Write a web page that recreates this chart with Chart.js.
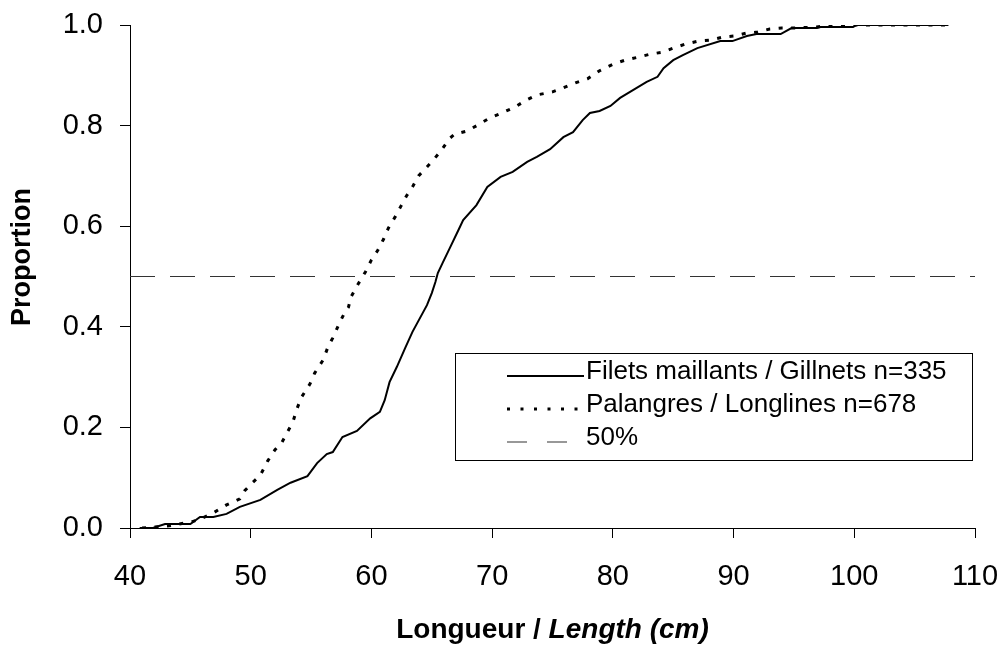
<!DOCTYPE html>
<html>
<head>
<meta charset="utf-8">
<script src="https://cdn.jsdelivr.net/npm/chart.js@4"></script>
<style>
  body { margin: 0; background: #fff; }
</style>
</head>
<body>
<canvas id="chart" width="1003" height="647"></canvas>
<script>
// gillnets (solid line) - cumulative proportion by length
const gillnetLength = [40.8, 41.9, 42.9, 45.0, 45.8, 46.9, 48.0, 49.1, 50.8, 52.2, 53.3, 54.7, 55.5, 56.3, 56.8, 57.6, 58.8, 59.9, 60.7, 61.1, 61.5, 62.1, 62.8, 63.4, 64.6, 65.0, 65.3, 65.5, 65.9, 66.5, 67.2, 67.6, 68.7, 69.6, 70.7, 71.7, 72.9, 73.7, 74.8, 75.9, 76.7, 77.5, 78.1, 78.9, 79.8, 80.6, 81.7, 82.8, 83.7, 84.2, 85.0, 85.8, 87.0, 88.9, 89.9, 91.1, 91.9, 93.9, 94.8, 96.9, 97.2, 99.9, 100.2, 107.8];
const gillnetProp = [0, 0, 0.008, 0.008, 0.022, 0.022, 0.028, 0.042, 0.056, 0.076, 0.09, 0.103, 0.129, 0.147, 0.151, 0.181, 0.193, 0.218, 0.231, 0.254, 0.29, 0.32, 0.358, 0.39, 0.443, 0.467, 0.489, 0.507, 0.527, 0.557, 0.592, 0.612, 0.642, 0.678, 0.698, 0.708, 0.728, 0.738, 0.753, 0.777, 0.787, 0.811, 0.825, 0.829, 0.839, 0.855, 0.871, 0.887, 0.897, 0.914, 0.93, 0.94, 0.954, 0.968, 0.968, 0.978, 0.982, 0.982, 0.994, 0.994, 0.996, 0.996, 1.0, 1.0];

// longlines (dotted line)
const longlineLength = [41.0, 43.1, 45.1, 46.0, 46.9, 48.0, 49.1, 49.5, 50.1, 50.8, 51.4, 52.0, 52.6, 53.0, 53.5, 53.8, 54.2, 54.9, 55.3, 56.0, 56.4, 56.8, 57.4, 57.8, 58.1, 58.3, 58.9, 59.5, 60.0, 60.5, 61.0, 61.4, 62.0, 62.4, 62.9, 63.4, 63.9, 65.0, 65.7, 66.5, 66.9, 67.9, 68.8, 69.8, 70.8, 71.9, 72.7, 73.7, 75.0, 75.9, 76.9, 77.9, 78.9, 80.0, 81.0, 82.1, 83.1, 84.1, 85.0, 86.0, 87.1, 88.1, 89.1, 90.0, 91.1, 92.0, 93.0, 94.0, 94.9, 96.9, 98.0, 107.8];
const longlineProp = [0, 0.004, 0.012, 0.02, 0.03, 0.046, 0.058, 0.074, 0.089, 0.105, 0.133, 0.155, 0.171, 0.189, 0.211, 0.235, 0.26, 0.286, 0.308, 0.334, 0.36, 0.378, 0.41, 0.429, 0.439, 0.459, 0.485, 0.509, 0.533, 0.551, 0.574, 0.596, 0.62, 0.638, 0.66, 0.678, 0.7, 0.728, 0.748, 0.775, 0.783, 0.789, 0.801, 0.815, 0.825, 0.837, 0.849, 0.861, 0.867, 0.875, 0.885, 0.893, 0.909, 0.922, 0.93, 0.936, 0.942, 0.946, 0.954, 0.962, 0.968, 0.97, 0.976, 0.978, 0.984, 0.986, 0.992, 0.994, 0.994, 0.996, 1.0, 1.0];

// 50% reference line
const refLength = [40, 110];
const refProp = [0.5, 0.5];

const seriesNames = ["Filets maillants / Gillnets n=335", "Palangres / Longlines n=678", "50%"];
const xTitleParts = ["Longueur / ", "Length (cm)"];
const yTitle = "Proportion";

const FONT = 'Arial, "Liberation Sans", sans-serif';

function pts(xs, ys) {
  return xs.map((x, i) => ({ x: x, y: ys[i] }));
}

// legend box and axis titles, drawn by hand
const decorations = {
  id: 'decorations',
  afterDraw(chart) {
    const ctx = chart.ctx;
    const area = chart.chartArea;
    ctx.save();

    // y title
    ctx.fillStyle = '#000';
    ctx.font = 'bold 27px ' + FONT;
    ctx.textAlign = 'center';
    ctx.textBaseline = 'middle';
    ctx.translate(23, 257);
    ctx.rotate(-Math.PI / 2);
    ctx.fillText(yTitle, 0, 0);
    ctx.setTransform(1, 0, 0, 1, 0, 0);

    // x title: normal part + italic part
    const cx = (area.left + area.right) / 2;
    ctx.textBaseline = 'alphabetic';
    ctx.textAlign = 'left';
    ctx.font = 'bold 28px ' + FONT;
    const w1 = ctx.measureText(xTitleParts[0]).width;
    ctx.font = 'italic bold 28px ' + FONT;
    const w2 = ctx.measureText(xTitleParts[1]).width;
    let x0 = cx - (w1 + w2) / 2;
    ctx.font = 'bold 28px ' + FONT;
    ctx.fillText(xTitleParts[0], x0, 638);
    ctx.font = 'italic bold 28px ' + FONT;
    ctx.fillText(xTitleParts[1], x0 + w1, 638);

    // legend
    ctx.strokeStyle = '#000';
    ctx.lineWidth = 1;
    ctx.strokeRect(455.5, 353.5, 517, 107);
    const rows = [372, 405, 438];
    ctx.font = '26px ' + FONT;
    ctx.textBaseline = 'middle';
    chart.data.datasets.forEach((ds, i) => {
      const y = rows[i];
      ctx.beginPath();
      ctx.strokeStyle = ds.borderColor;
      ctx.lineWidth = i === 1 ? 3 : (i === 0 ? 2 : 1);
      ctx.setLineDash(i === 1 ? [3, 10.5] : (i === 2 ? [20, 20] : []));
      ctx.moveTo(507, y + 4);
      ctx.lineTo(584, y + 4);
      ctx.stroke();
      ctx.setLineDash([]);
      ctx.fillStyle = '#000';
      ctx.fillText(ds.label, 586, y);
    });
    ctx.restore();
  }
};

const ctx = document.getElementById('chart').getContext('2d');
new Chart(ctx, {
  type: 'line',
  data: {
    datasets: [
      {
        label: seriesNames[0],
        data: pts(gillnetLength, gillnetProp),
        borderColor: '#000',
        borderWidth: 2,
        pointRadius: 0,
        tension: 0
      },
      {
        label: seriesNames[1],
        data: pts(longlineLength, longlineProp),
        borderColor: '#000',
        borderWidth: 3,
        borderDash: [4, 8.5],
        pointRadius: 0,
        tension: 0
      },
      {
        label: seriesNames[2],
        data: pts(refLength, refProp),
        borderColor: '#333',
        borderWidth: 1,
        borderDash: [25, 15],
        pointRadius: 0
      }
    ]
  },
  options: {
    responsive: false,
    animation: false,
    layout: { padding: { top: 25, right: 28, left: 0, bottom: 0 } },
    plugins: {
      legend: { display: false },
      tooltip: { enabled: false }
    },
    scales: {
      x: {
        type: 'linear',
        min: 40,
        max: 110,
        ticks: { stepSize: 10, color: '#000', font: { size: 29, family: FONT }, padding: 22 },
        grid: { drawOnChartArea: false, color: '#000', tickLength: 10 },
        border: { color: '#000', width: 1 },
        afterFit: s => {
          s.height = 119;
          s.paddingLeft = 0;
          s.paddingRight = 0;
        }
      },
      y: {
        min: 0,
        max: 1,
        ticks: {
          stepSize: 0.2,
          color: '#000',
          font: { size: 29, family: FONT },
          padding: 17,
          callback: v => v.toFixed(1)
        },
        grid: { drawOnChartArea: false, color: '#000', tickLength: 10 },
        border: { color: '#000', width: 1 },
        afterFit: s => {
          s.width = 130;
          s.paddingTop = 0;
          s.paddingBottom = 0;
        }
      }
    }
  },
  plugins: [decorations]
});
</script>
</body>
</html>
